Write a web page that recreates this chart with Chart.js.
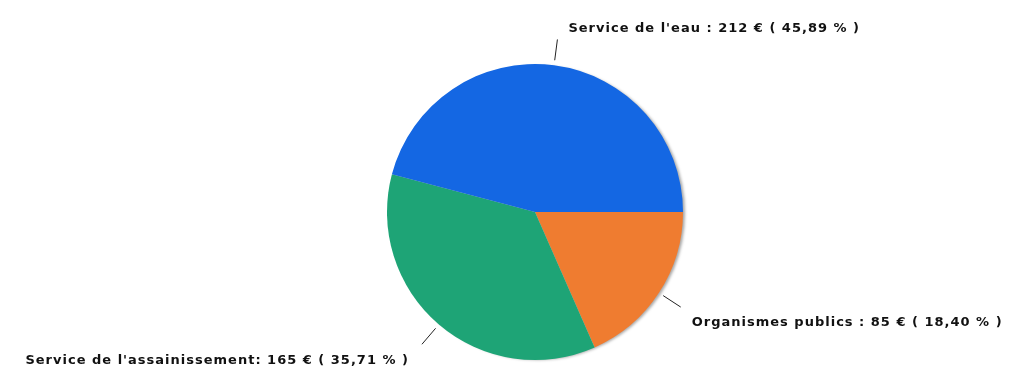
<!DOCTYPE html>
<html>
<head>
<meta charset="utf-8">
<script src="https://cdn.jsdelivr.net/npm/chart.js@4/dist/chart.umd.min.js"></script>
<style>
  html, body { margin: 0; padding: 0; background: #fff; }
  #wrap { width: 1017px; height: 367px; }
</style>
</head>
<body>
<div id="wrap"><canvas id="myChartPie" width="1017" height="367"></canvas></div>
<script>
// drawn clockwise from 3 o'clock, so the order is reversed vs the legend
var categories = ["Organismes publics ", "Service de l'assainissement", "Service de l'eau "];
var amounts = [85, 165, 212];
var sliceColors = ['#ef7c30', '#1ea476', '#1467e3'];

var total = amounts.reduce(function (a, b) { return a + b; }, 0);

var pieLabels = {
    id: 'pieLabels',
    beforeDatasetsDraw: function (chart) {
        // soft grey shadow behind the whole disc
        var arc = chart.getDatasetMeta(0).data[0];
        var ctx = chart.ctx;
        ctx.save();
        ctx.shadowColor = 'rgba(0,0,0,0.35)';
        ctx.shadowBlur = 3;
        ctx.shadowOffsetX = 3;
        ctx.shadowOffsetY = 1;
        ctx.fillStyle = '#ccc';
        ctx.beginPath();
        ctx.arc(arc.x, arc.y, arc.outerRadius - 1, 0, Math.PI * 2);
        ctx.fill();
        ctx.restore();
    },
    afterDatasetsDraw: function (chart) {
        var ctx = chart.ctx;
        var arcs = chart.getDatasetMeta(0).data;
        ctx.save();
        ctx.font = 'bold 13px "DejaVu Sans", sans-serif';
        ctx.letterSpacing = '1px';
        ctx.fillStyle = '#111';
        ctx.strokeStyle = '#222';
        ctx.lineWidth = 1;
        arcs.forEach(function (arc, i) {
            var mid = (arc.startAngle + arc.endAngle) / 2;
            var r = arc.outerRadius;
            var cx = Math.cos(mid), cy = Math.sin(mid);
            var x1 = arc.x + cx * (r + 5), y1 = arc.y + cy * (r + 5);
            var x2 = arc.x + cx * (r + 26), y2 = arc.y + cy * (r + 26);
            ctx.beginPath();
            ctx.moveTo(x1, y1);
            ctx.lineTo(x2, y2);
            ctx.stroke();
            var pct = (amounts[i] / total * 100).toFixed(2).replace('.', ',');
            var txt = categories[i] + ': ' + amounts[i] + ' \u20ac ( ' + pct + ' % )';
            ctx.textAlign = cx >= 0 ? 'left' : 'right';
            ctx.textBaseline = 'middle';
            var tx = x2 + (cx >= 0 ? 11 : -13);
            var ty = y2 + (cy >= 0 ? 16 : -11);
            ctx.fillText(txt, tx, ty);
        });
        ctx.restore();
    }
};

var ctx1 = document.getElementById("myChartPie");
var myChart1 = new Chart(ctx1, {
    type: 'pie',
    data: {
        labels: categories,
        datasets: [
            {
            data: amounts,
            backgroundColor: sliceColors,
            borderWidth: 0,
        }
    ]
    },
    options: {
    responsive: false,
    animation: false,
    rotation: 90,
    layout: {
        padding: { left: 387, right: 334, top: 64, bottom: 7 }
    },
    plugins: {
        legend: { display: false },
        tooltip: { enabled: false }
    }
    },
    plugins: [pieLabels]
});
</script>
</body>
</html>
